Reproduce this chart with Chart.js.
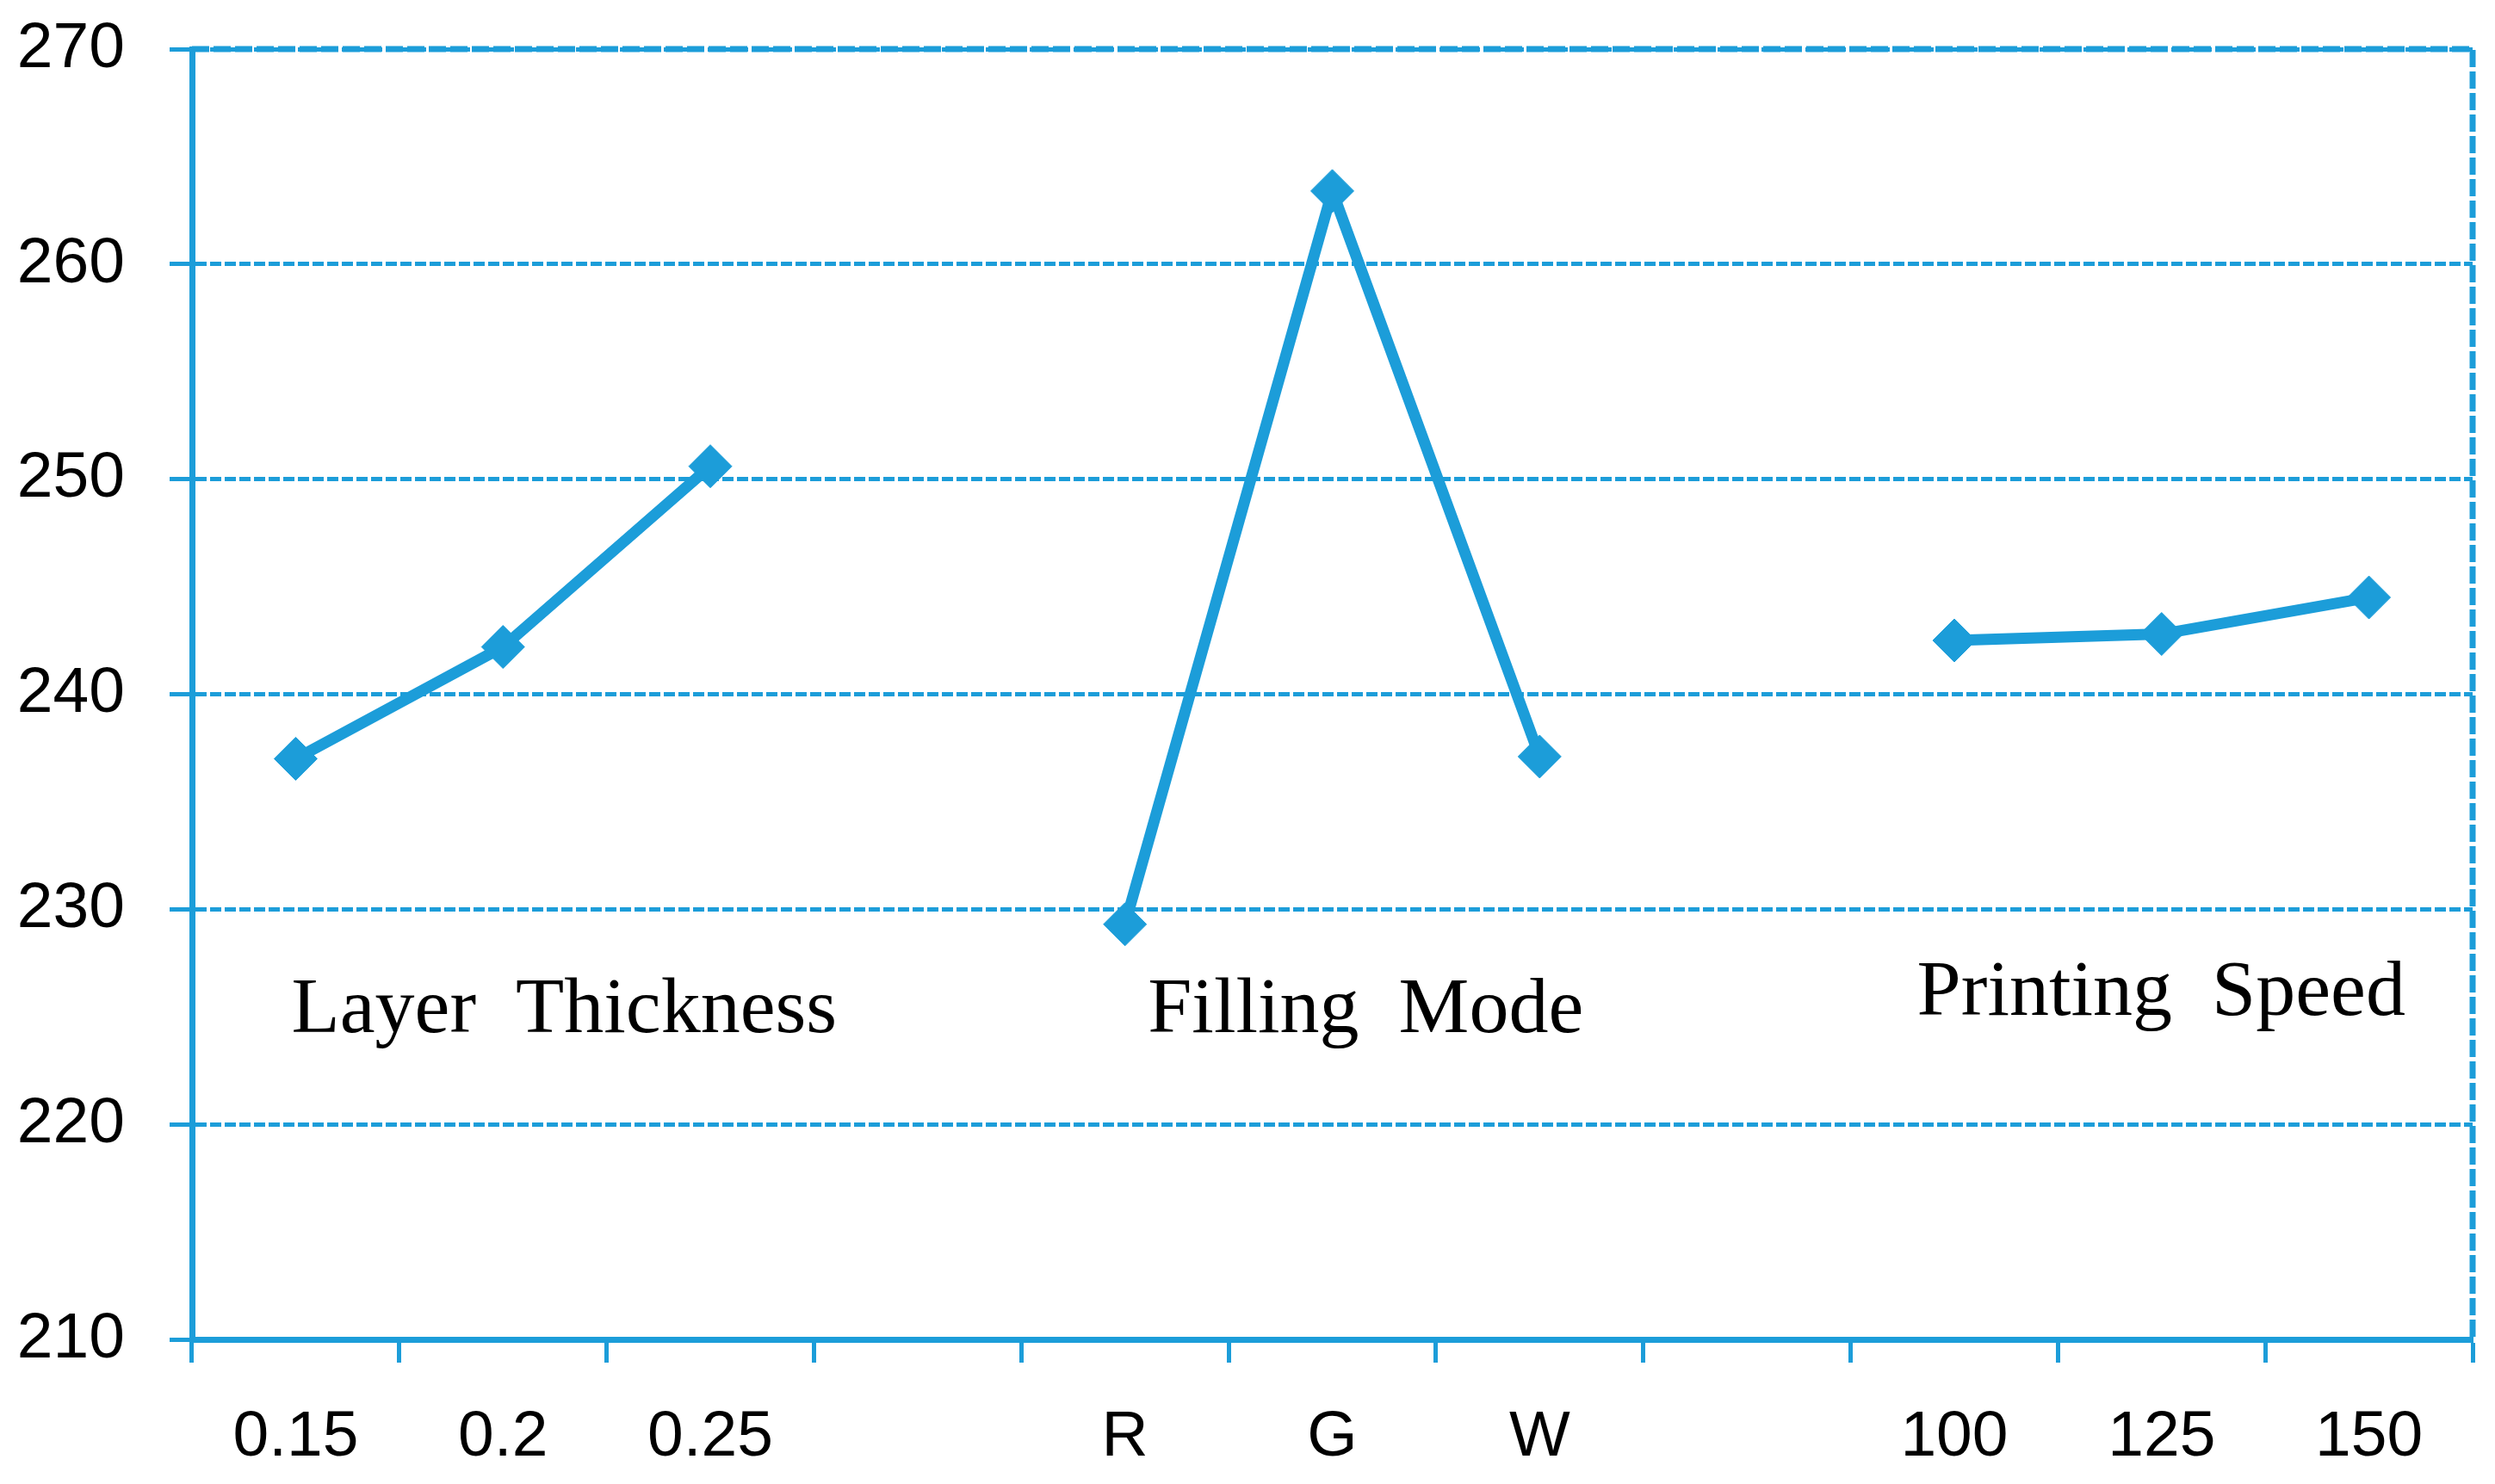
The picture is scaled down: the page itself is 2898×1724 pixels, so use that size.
<!DOCTYPE html>
<html>
<head>
<meta charset="utf-8">
<script src="https://cdn.jsdelivr.net/npm/chart.js@4"></script>
<style>
    body { margin: 0; background: #fff; }
    #wrap { width: 2898px; height: 1724px; }
</style>
</head>
<body>
<div id="wrap"><canvas id="mainChart"></canvas></div>
<script>
// Category labels (empty slots separate the three factors)
const levels = ['0.15', '0.2', '0.25', '', 'R', 'G', 'W', '', '100', '125', '150'];
// Mean response per level, null breaks the line between factors
const meanValues = [237.0, 242.2, 250.6, null, 229.3, 263.4, 237.1, null, 242.5, 242.8, 244.5];
const yTicks = { min: 210, max: 270, step: 10 };

// Factor names written inside the plot
const factorNames = ['Layer  Thickness', 'Filling  Mode', 'Printing  Speed'];
const factorAt = [-0.02, 4.11, 7.82];      // category position of text start
const factorBase = [224.3, 224.3, 225.1];  // y value of text baseline

const blue = '#1c9dd9';

// Dashed frame on the top and right side of the plot
const plotFrame = {
    id: 'plotFrame',
    beforeDatasetsDraw(chart) {
        const { ctx, chartArea: a } = chart;
        ctx.save();
        ctx.strokeStyle = blue;
        ctx.lineWidth = 7;
        ctx.setLineDash([20, 5]);
        ctx.beginPath();
        ctx.moveTo(a.left, a.top);
        ctx.lineTo(a.right, a.top);
        ctx.lineTo(a.right, a.bottom);
        ctx.stroke();
        ctx.restore();
    }
};

// Draw the factor names
const factorLabels = {
    id: 'factorLabels',
    afterDraw(chart) {
        const ctx = chart.ctx;
        const x = chart.scales.x;
        const y = chart.scales.y;
        ctx.save();
        ctx.font = '92px "Liberation Serif", "Times New Roman", serif';
        ctx.fillStyle = '#000';
        ctx.textAlign = 'left';
        ctx.textBaseline = 'alphabetic';
        factorNames.forEach((name, i) => {
            ctx.fillText(name, x.getPixelForValue(factorAt[i]), y.getPixelForValue(factorBase[i]));
        });
        ctx.restore();
    }
};

new Chart(document.getElementById('mainChart'), {
    type: 'line',
    data: {
        labels: levels,
        datasets: [{
            data: meanValues,
            borderColor: blue,
            backgroundColor: blue,
            borderWidth: 13,
            tension: 0,
            spanGaps: false,
            pointStyle: 'rectRot',
            pointRadius: 25,
            pointBorderWidth: 1,
            pointBackgroundColor: blue,
            pointBorderColor: blue
        }]
    },
    options: {
        responsive: true,
        maintainAspectRatio: false,
        animation: false,
        events: [],
        layout: { padding: { top: 57, right: 25, left: 0, bottom: 0 } },
        plugins: {
            legend: { display: false },
            tooltip: { enabled: false }
        },
        scales: {
            x: {
                offset: true,
                afterFit: s => { s.height = 168; },
                grid: {
                    offset: true,
                    drawOnChartArea: false,
                    color: blue,
                    tickColor: blue,
                    tickWidth: 5,
                    tickLength: 27
                },
                border: { display: true, color: blue, width: 7 },
                ticks: {
                    color: '#000',
                    padding: 42,
                    maxRotation: 0,
                    autoSkip: false,
                    font: { family: '"Liberation Sans", Arial, sans-serif', size: 75 }
                }
            },
            y: {
                min: yTicks.min,
                max: yTicks.max,
                afterFit: s => {
                    s.width = 223;
                    s.paddingTop = 0;
                    s.paddingBottom = 0;
                },
                grid: {
                    color: blue,
                    lineWidth: 5,
                    tickColor: blue,
                    tickWidth: 5,
                    tickLength: 26
                },
                border: { display: true, color: blue, width: 7, dash: [13, 4] },
                ticks: {
                    stepSize: yTicks.step,
                    color: '#000',
                    padding: 52,
                    font: { family: '"Liberation Sans", Arial, sans-serif', size: 75 }
                }
            }
        }
    },
    plugins: [plotFrame, factorLabels]
});
</script>
</body>
</html>
